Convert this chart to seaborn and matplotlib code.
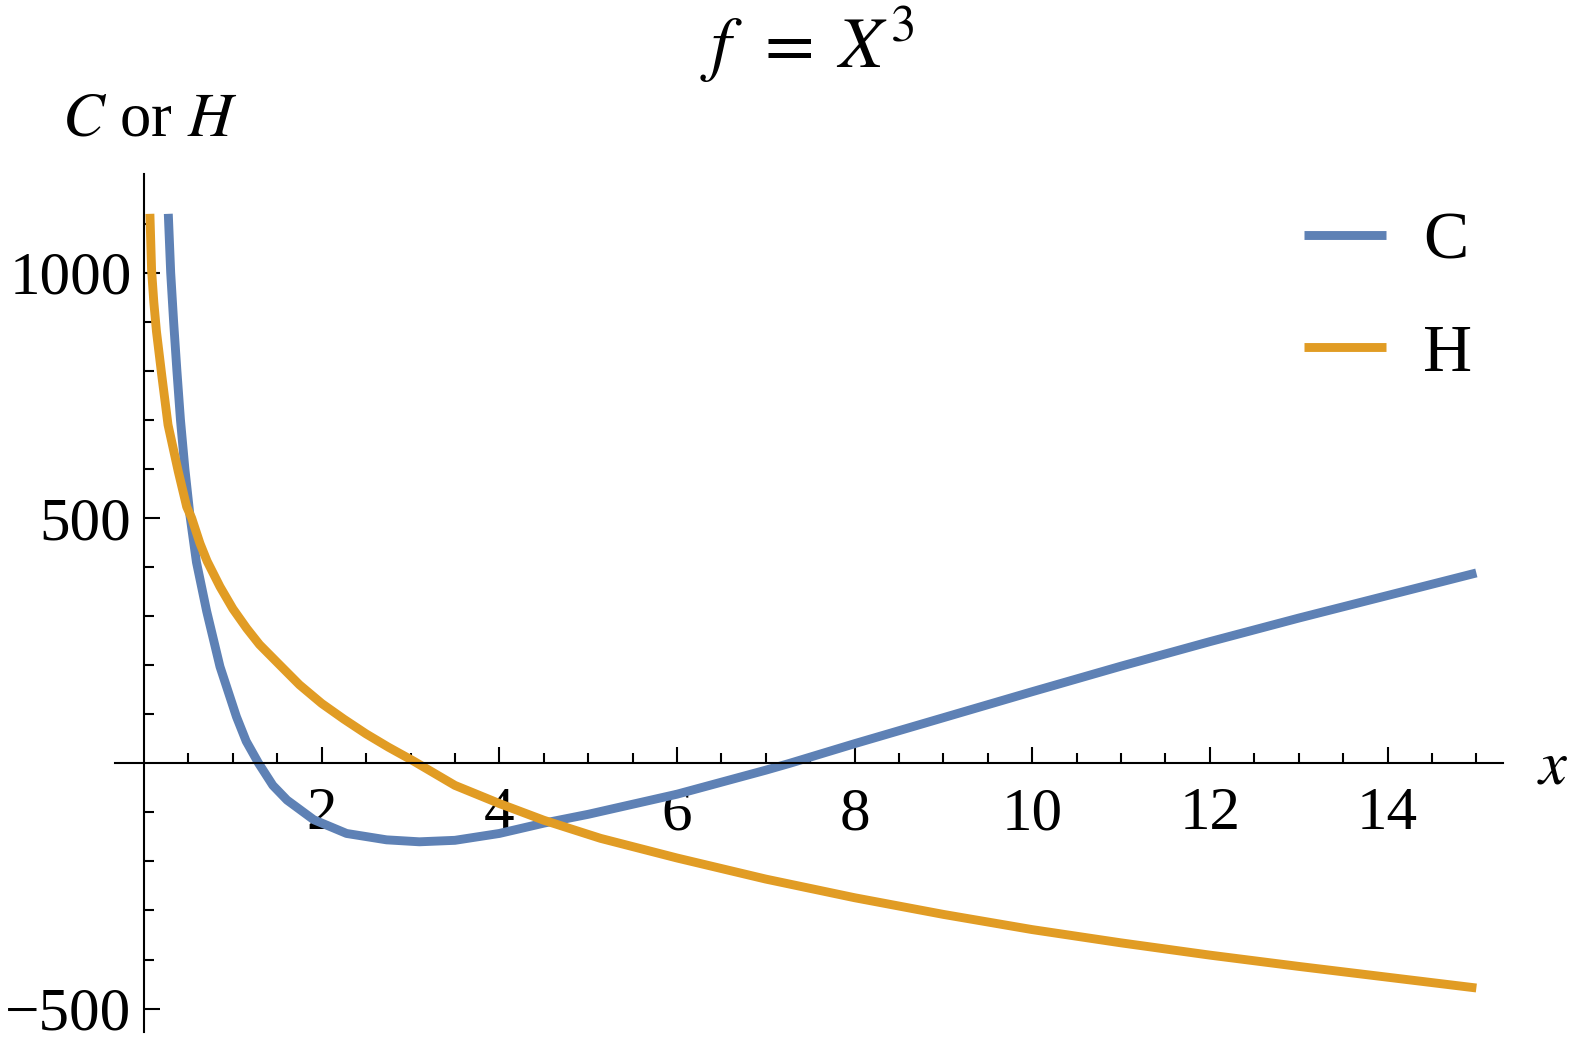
import numpy as np
import pandas as pd
import matplotlib
matplotlib.use("Agg")
import matplotlib.pyplot as plt
from matplotlib.ticker import FixedLocator
import seaborn as sns

# values
x_c = [0.273, 0.30, 0.333, 0.37, 0.41, 0.46, 0.517, 0.59, 0.705, 0.855, 1.04, 1.15,
       1.29, 1.45, 1.61, 1.91, 2.28, 2.73, 3.1, 3.5, 4.0, 4.5, 5.0, 6.0, 7.0, 7.27,
       8.0, 9.0, 10.0, 11.0, 12.0, 13.0, 14.0, 15.0]
c_vals = [1120, 1000, 900, 800, 700, 600, 505, 410, 310, 197, 95, 45,
          0, -45, -75, -115, -143, -156, -160, -157, -143, -122, -104, -63, -14, 0,
          40, 93, 146, 198, 248, 296, 342, 388]

x_h = [0.066, 0.085, 0.11, 0.14, 0.20, 0.27, 0.385, 0.48, 0.536, 0.63, 0.71, 0.855,
       1.0, 1.156, 1.3, 1.53, 1.75, 2.0, 2.25, 2.5, 2.75, 3.03, 3.5, 4.0, 4.5, 5.14,
       6.0, 7.0, 8.0, 9.0, 10.0, 11.0, 12.0, 13.0, 14.0, 15.0]
h_vals = [1120, 1005, 940, 880, 790, 690, 595, 523, 500, 448, 412, 360,
          315, 275, 242, 200, 160, 122, 90, 60, 33, 5, -45, -82, -116, -153,
          -193, -236, -274, -308, -339, -366, -391, -414, -436, -458]

x_ticks = [2, 4, 6, 8, 10, 12, 14]
y_ticks = [-500, 500, 1000]
series_names = ["C", "H"]
colors = ["#5E81B5", "#E19C24"]

df = pd.concat([
    pd.DataFrame({"x": x_c, "value": c_vals, "series": "C"}),
    pd.DataFrame({"x": x_h, "value": h_vals, "series": "H"}),
])

sns.set_style("white")
plt.rcParams["font.family"] = ["Liberation Serif", "DejaVu Serif"]
plt.rcParams["mathtext.fontset"] = "stix"
plt.rcParams["text.color"] = "black"

W, H = 1578, 1050
fig = plt.figure(figsize=(W / 100, H / 100), dpi=100)
ax = fig.add_axes([115 / W, (H - 1032) / H, (1503 - 115) / W, (1032 - 174) / H])

sns.lineplot(data=df, x="x", y="value", hue="series", hue_order=series_names,
             palette=colors, sort=False, estimator=None, linewidth=6.4, ax=ax)
for ln in ax.get_lines():
    ln.set_solid_capstyle("butt")
    ln.set_solid_joinstyle("round")

ax.set_xlim(-0.327, 15.30)
ax.set_ylim(-547.7, 1201.2)

# mathematica-like axes crossing at the origin
for side in ["top", "right"]:
    ax.spines[side].set_visible(False)
for side in ["left", "bottom"]:
    ax.spines[side].set_position(("data", 0))
    ax.spines[side].set_linewidth(1.5)
    ax.spines[side].set_color("black")

ax.xaxis.set_major_locator(FixedLocator(x_ticks))
ax.xaxis.set_minor_locator(FixedLocator([v / 2 for v in range(1, 31) if v % 4 != 0]))
ax.yaxis.set_major_locator(FixedLocator(y_ticks))
ax.yaxis.set_minor_locator(FixedLocator([v for v in range(-400, 1101, 100) if v not in (0, 500, 1000)]))
ax.set_xticklabels([str(t) for t in x_ticks])
ax.set_yticklabels(["\u2212500", "500", "1000"])

ax.tick_params(which="both", bottom=True, left=True, top=False, right=False)
ax.tick_params(which="major", direction="in", length=11.5, width=1.5, color="black",
               labelsize=44, labelcolor="black")
ax.tick_params(which="minor", direction="in", length=7, width=1.5, color="black")
ax.tick_params(axis="x", which="major", pad=17)
ax.tick_params(axis="y", which="major", pad=9)

ax.set_xlabel("")
ax.set_ylabel("")

fig.text(807 / W, 1 - 45 / H, r"$f\;\,=\;X^3$", fontsize=52, ha="center", va="center")
fig.text(62 / W, 1 - 136 / H, r"$C$ or $H$", fontsize=45, ha="left", va="baseline")
fig.text(1537 / W, 1 - 783 / H, r"$x$", fontsize=45, ha="left", va="baseline")

ax.legend(loc="upper left", bbox_to_anchor=(1304 / W, 1 - 211 / H),
          bbox_transform=fig.transFigure, frameon=False, fontsize=49,
          handlelength=1.2, handletextpad=0.55, labelspacing=0.74,
          borderpad=0, borderaxespad=0, title=None)

fig.savefig("out.png", dpi=100)
